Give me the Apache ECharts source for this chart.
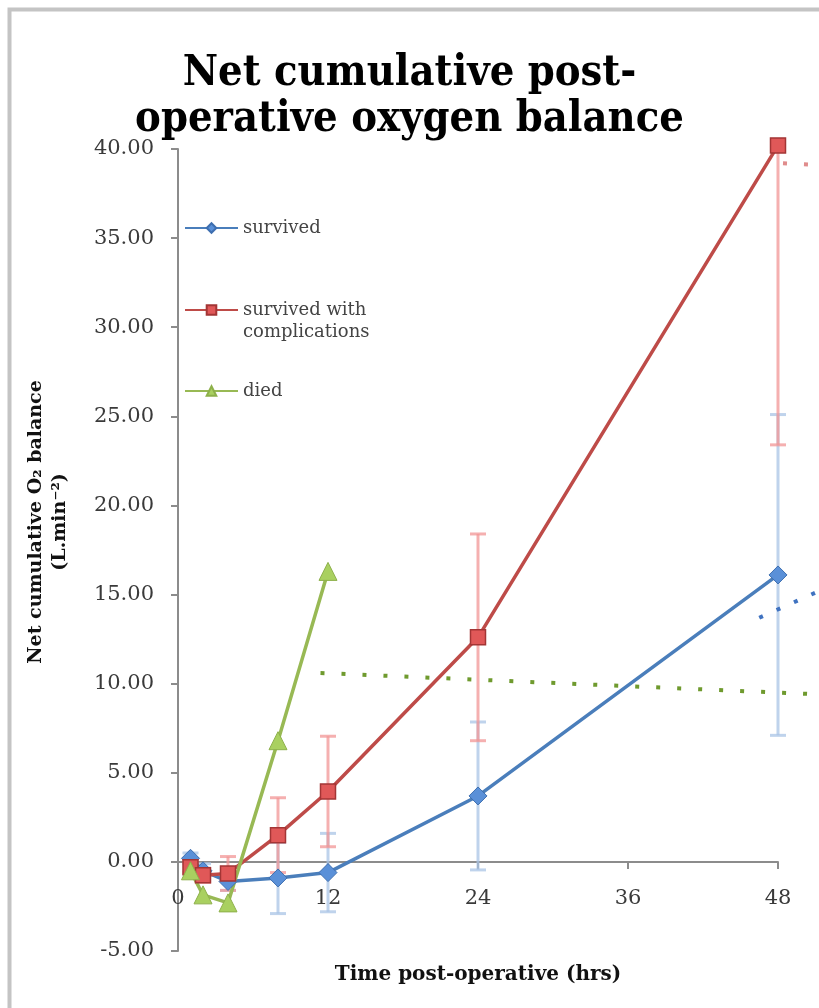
<!DOCTYPE html>
<html>
<head>
<meta charset="utf-8">
<script src="https://cdn.jsdelivr.net/npm/echarts@6/dist/echarts.min.js"></script>
<style>
  html, body { margin: 0; padding: 0; background: #fff; }
  #chart { width: 819px; height: 1008px; }
</style>
</head>
<body>
<div id="chart"></div>
<script>
// hours after the operation
var hours = [1, 2, 4, 8, 12, 24, 48];
var hoursDied = [1, 2, 4, 8, 12];

// net cumulative O2 balance, with +/- error
var survived = [0.2, -0.5, -1.1, -0.9, -0.6, 3.7, 16.1];
var survivedErr = [0.3, 0.4, 0.5, 2.0, 2.2, 4.15, 9.0];
var complications = [-0.3, -0.75, -0.65, 1.5, 3.95, 12.6, 40.2];
var complicationsErr = [0.3, 0.4, 0.95, 2.1, 3.1, 5.8, 16.8];
var died = [-0.5, -1.85, -2.3, 6.8, 16.3];

// dotted trend segments, [hour, value] (they run past the 48 h edge)
var trendDied = [[11.4, 10.6], [51.3, 9.4]];
var trendSurvived = [[46.5, 13.7], [51.3, 15.2]];
var trendComplications = [[48.4, 39.2], [51.3, 39.1]];

var serif = '"DejaVu Serif", serif';
var serifCond = '"DejaVu Serif Condensed", "DejaVu Serif", serif';

function pairs(xs, ys) {
  return xs.map(function (x, i) { return [x, ys[i]]; });
}
function errData(xs, ys, es) {
  return xs.map(function (x, i) { return [x, ys[i] - es[i], ys[i] + es[i]]; });
}

// vertical error bar with caps, cut at the plot top
function errRender(color) {
  return function (params, api) {
    var cs = params.coordSys;
    var lo = api.coord([api.value(0), api.value(1)]);
    var hi = api.coord([api.value(0), api.value(2)]);
    var top = Math.max(hi[1], cs.y);
    var bot = Math.min(lo[1], cs.y + cs.height);
    var hw = 8;
    var st = { stroke: color, lineWidth: 3 };
    var kids = [
      { type: 'line', shape: { x1: lo[0], y1: top, x2: lo[0], y2: bot }, style: st }
    ];
    if (hi[1] >= cs.y) kids.push({ type: 'line', shape: { x1: hi[0] - hw, y1: hi[1], x2: hi[0] + hw, y2: hi[1] }, style: st });
    kids.push({ type: 'line', shape: { x1: lo[0] - hw, y1: lo[1], x2: lo[0] + hw, y2: lo[1] }, style: st });
    return { type: 'group', children: kids };
  };
}

var legendText = { fontFamily: serif, fontSize: 18, color: '#444', lineHeight: 22 };
var legendBase = { left: 179, itemWidth: 53, itemHeight: 12, itemGap: 5, textStyle: legendText };

var myChart = echarts.init(document.getElementById('chart'));
myChart.setOption({
  backgroundColor: '#fff',
  animation: false,
  title: {
    text: 'Net cumulative post-\noperative oxygen balance',
    left: 'center',
    top: 46,
    textStyle: { fontFamily: serifCond, fontSize: 43, fontWeight: 'bold', color: '#000', lineHeight: 46 }
  },
  legend: [
    Object.assign({ data: ['survived'], top: 212 }, legendBase),
    Object.assign({
      data: ['survived with complications'], top: 272,
      formatter: function () { return ' \nsurvived with\ncomplications'; }
    }, legendBase),
    Object.assign({ data: ['died'], top: 375 }, legendBase)
  ],
  grid: [
    { left: 178, right: 41, top: 149, bottom: 57, outerBoundsMode: 'none' },
    // same scale, wider range, for trend lines that run off the axis
    { left: 178, right: -9, top: 149, bottom: 57, outerBoundsMode: 'none' }
  ],
  xAxis: [
    {
      type: 'value',
      min: 0,
      max: 48,
      interval: 12,
      // axis sits on the zero line
      offset: -89,
      name: 'Time post-operative (hrs)',
      nameLocation: 'middle',
      nameGap: 103,
      nameTextStyle: { fontFamily: serif, fontSize: 20, fontWeight: 'bold', color: '#111' },
      axisLine: { onZero: false, lineStyle: { color: '#8c8c8c', width: 2 } },
      axisTick: { show: true, length: 7, lineStyle: { color: '#8c8c8c', width: 2 } },
      axisLabel: { margin: 26, fontFamily: serif, fontSize: 21, color: '#3a3a3a' },
      splitLine: { show: false }
    },
    { type: 'value', gridIndex: 1, min: 0, max: 52, show: false, splitLine: { show: false } }
  ],
  yAxis: [
    {
      type: 'value',
      min: -5,
      max: 40,
      interval: 5,
      axisLine: { show: true, lineStyle: { color: '#8c8c8c', width: 2 } },
      axisTick: { show: true, length: 7, lineStyle: { color: '#8c8c8c', width: 2 } },
      axisLabel: {
        margin: 24, fontFamily: serif, fontSize: 21, color: '#3a3a3a',
        formatter: function (v) { return v.toFixed(2); }
      },
      splitLine: { show: false }
    },
    { type: 'value', gridIndex: 1, min: -5, max: 40, show: false, splitLine: { show: false } }
  ],
  graphic: [
    {
      type: 'rect', left: 7, top: 7, z: -1, silent: true,
      shape: { width: 830, height: 1020 },
      style: { fill: 'none', stroke: '#c4c4c4', lineWidth: 4 }
    },
    {
      type: 'text', x: 48, y: 522, rotation: Math.PI / 2, silent: true,
      style: {
        text: 'Net cumulative O₂ balance\n(L.min⁻²)',
        align: 'center', verticalAlign: 'middle',
        font: 'bold 19px "DejaVu Serif", serif', fill: '#111', lineHeight: 24
      }
    }
  ],
  series: [
    {
      type: 'custom', name: 'errSurvived', z: 1, silent: true,
      renderItem: errRender('rgba(170,196,230,0.75)'),
      data: errData(hours, survived, survivedErr)
    },
    {
      type: 'custom', name: 'errComplications', z: 1, silent: true,
      renderItem: errRender('rgba(242,150,150,0.75)'),
      data: errData(hours, complications, complicationsErr)
    },
    {
      name: 'survived', type: 'line', z: 3, clip: false,
      symbol: 'diamond', symbolSize: 18,
      itemStyle: { color: '#5a90d8', borderColor: '#3e6fb0', borderWidth: 1 },
      lineStyle: { color: '#4a7ebb', width: 3.5 },
      data: pairs(hours, survived)
    },
    {
      name: 'survived with complications', type: 'line', z: 3, clip: false,
      symbol: 'rect', symbolSize: 15,
      itemStyle: { color: '#e05858', borderColor: '#a33535', borderWidth: 1.5 },
      lineStyle: { color: '#be4b48', width: 3.5 },
      data: pairs(hours, complications)
    },
    {
      name: 'died', type: 'line', z: 3, clip: false,
      symbol: 'triangle', symbolSize: 18,
      itemStyle: { color: '#a9d060', borderColor: '#8db04a', borderWidth: 1 },
      lineStyle: { color: '#98b954', width: 3.5 },
      data: pairs(hoursDied, died)
    },
    {
      name: 'trendDied', type: 'line', z: 4, symbol: 'none', xAxisIndex: 1, yAxisIndex: 1,
      lineStyle: { color: '#6f9a2e', width: 4, type: [4, 17], cap: 'butt' },
      data: trendDied
    },
    {
      name: 'trendSurvived', type: 'line', z: 4, symbol: 'none', xAxisIndex: 1, yAxisIndex: 1,
      lineStyle: { color: '#3f72c0', width: 4, type: [4, 15], cap: 'butt' },
      data: trendSurvived
    },
    {
      name: 'trendComplications', type: 'line', z: 4, symbol: 'none', xAxisIndex: 1, yAxisIndex: 1,
      lineStyle: { color: '#e08c8c', width: 4, type: [4, 17], cap: 'butt' },
      data: trendComplications
    }
  ]
});

window.addEventListener('resize', function () {
  myChart.resize();
});
</script>
</body>
</html>
